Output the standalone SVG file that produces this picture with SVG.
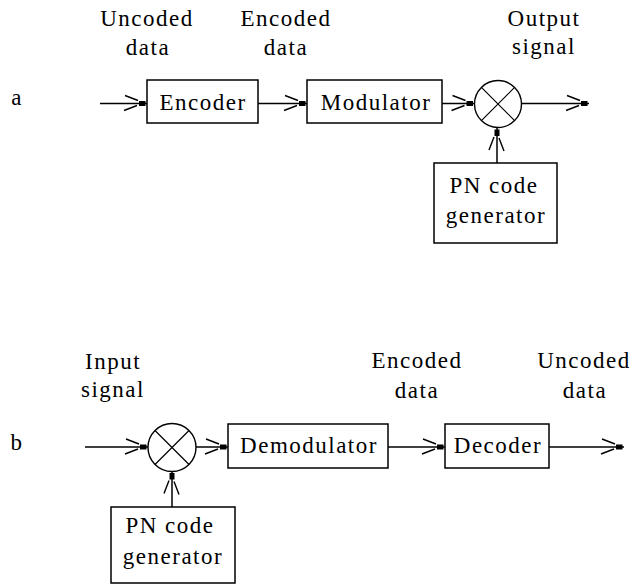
<svg xmlns="http://www.w3.org/2000/svg" width="634" height="584" viewBox="0 0 634 584">
  <style>
    .box { fill: #fff; stroke: #000; stroke-width: 1.5; }
    .wire { fill: none; stroke: #000; stroke-width: 1.5; }
    .mix { fill: #fff; stroke: #000; stroke-width: 1.4; }
    .mixx { stroke: #000; stroke-width: 1.2; }
    text { font-family: "Liberation Serif", "DejaVu Serif", serif; font-size: 23px; letter-spacing: 1.5px; fill: #000; text-anchor: middle; }
  </style>
  <defs>
    <!-- open barbed arrowhead with a small solid block at the tip -->
    <marker id="arr" markerUnits="userSpaceOnUse" viewBox="-26 -12 28 24" markerWidth="28" markerHeight="24" refX="0" refY="0" orient="auto" overflow="visible">
      <path d="M-22,-8 L-9,-3 M-23,7 L-10,2" fill="none" stroke="#000" stroke-width="1.4"/>
      <rect x="-8" y="-2.5" width="6.5" height="5" fill="#000"/>
    </marker>
  </defs>

  <!-- panel labels -->
  <text x="17" y="105">a</text>
  <text x="17" y="450">b</text>

  <!-- transmitter (a) -->
  <g id="label-uncoded-a"><text x="147" y="26">Uncoded</text><text x="148" y="55">data</text></g>
  <g id="label-encoded-a"><text x="286" y="26">Encoded</text><text x="286" y="55">data</text></g>
  <g id="label-output-a"><text x="544" y="26">Output</text><text x="544" y="54">signal</text></g>

  <g id="encoder"><rect class="box" x="147" y="80" width="111" height="43"/><text x="203" y="110">Encoder</text></g>
  <g id="modulator"><rect class="box" x="307" y="80" width="135" height="43"/><text x="376" y="110">Modulator</text></g>
  <g id="mixer-a">
    <circle class="mix" cx="498" cy="104" r="23.5"/>
    <path class="mixx" d="M481.4,87.4 L514.6,120.6 M514.6,87.4 L481.4,120.6"/>
  </g>
  <g id="pn-a"><rect class="box" x="434" y="163" width="123" height="80"/><text x="494" y="193">PN code</text><text x="496" y="223">generator</text></g>

  <!-- receiver (b) -->
  <g id="label-input-b"><text x="113" y="369">Input</text><text x="113" y="397">signal</text></g>
  <g id="label-encoded-b"><text x="417" y="368">Encoded</text><text x="417" y="398">data</text></g>
  <g id="label-uncoded-b"><text x="584" y="368">Uncoded</text><text x="585" y="398">data</text></g>

  <g id="mixer-b">
    <circle class="mix" cx="172" cy="447.5" r="24"/>
    <path class="mixx" d="M155,430.5 L189,464.5 M189,430.5 L155,464.5"/>
  </g>
  <g id="demodulator"><rect class="box" x="228" y="424" width="160" height="44"/><text x="309" y="453">Demodulator</text></g>
  <g id="decoder"><rect class="box" x="445" y="424" width="104" height="44"/><text x="498" y="453">Decoder</text></g>
  <g id="pn-b"><rect class="box" x="111" y="507" width="124" height="76"/><text x="170" y="533">PN code</text><text x="173" y="564">generator</text></g>

  <g id="connectors">
    <line class="wire" x1="100" y1="103.5" x2="147" y2="103.5" marker-end="url(#arr)"/>
    <line class="wire" x1="258" y1="103.5" x2="307" y2="103.5" marker-end="url(#arr)"/>
    <line class="wire" x1="442" y1="103.5" x2="474.5" y2="103.5" marker-end="url(#arr)"/>
    <line class="wire" x1="521.5" y1="103.5" x2="589" y2="103.5" marker-end="url(#arr)"/>
    <line class="wire" x1="497" y1="163" x2="497" y2="128" marker-end="url(#arr)"/>

    <line class="wire" x1="85" y1="447" x2="148" y2="447" marker-end="url(#arr)"/>
    <line class="wire" x1="196" y1="447" x2="228" y2="447" marker-end="url(#arr)"/>
    <line class="wire" x1="388" y1="447" x2="445" y2="447" marker-end="url(#arr)"/>
    <line class="wire" x1="549" y1="447" x2="624" y2="447" marker-end="url(#arr)"/>
    <line class="wire" x1="172" y1="507" x2="172" y2="471.5" marker-end="url(#arr)"/>
  </g>
</svg>
